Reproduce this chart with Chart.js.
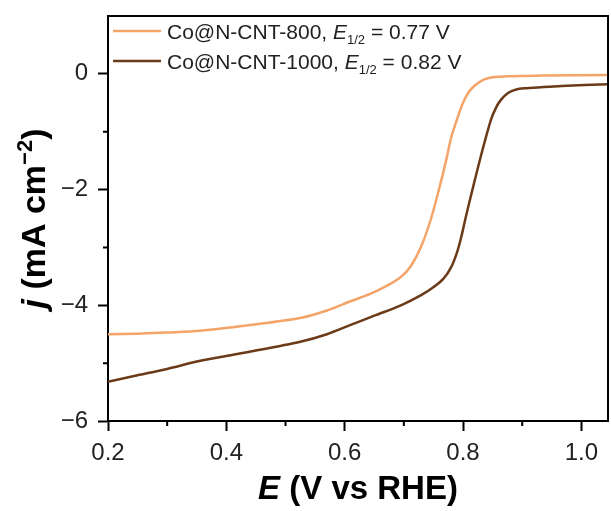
<!DOCTYPE html>
<html>
<head>
<meta charset="utf-8">
<script src="https://cdn.jsdelivr.net/npm/chart.js@4"></script>
<style>
  html, body { margin: 0; padding: 0; background: #fff; }
  #wrap { width: 611px; height: 511px; }
</style>
</head>
<body>
<div id="wrap"><canvas id="myChart" width="611" height="511"></canvas></div>
<script>
// Co@N-CNT-800
var e_800 = [0.2, 0.25, 0.3, 0.356, 0.441, 0.525, 0.57, 0.61, 0.644, 0.67, 0.695, 0.712, 0.729, 0.746, 0.763, 0.772, 0.78, 0.79, 0.8, 0.81, 0.82, 0.835, 0.85, 0.876, 0.932, 1.045];
var j_800 = [-4.5, -4.49, -4.47, -4.44, -4.34, -4.22, -4.09, -3.93, -3.8, -3.67, -3.51, -3.32, -2.99, -2.5, -1.85, -1.47, -1.1, -0.78, -0.5, -0.31, -0.2, -0.1, -0.06, -0.04, -0.03, -0.02];
// Co@N-CNT-1000
var e_1000 = [0.2, 0.25, 0.3, 0.356, 0.441, 0.525, 0.57, 0.61, 0.65, 0.695, 0.73, 0.751, 0.767, 0.78, 0.79, 0.797, 0.805, 0.814, 0.831, 0.847, 0.856, 0.864, 0.876, 0.89, 0.903, 0.932, 0.966, 1.045];
var j_1000 = [-5.32, -5.21, -5.1, -4.96, -4.8, -4.63, -4.5, -4.34, -4.18, -4.0, -3.82, -3.68, -3.54, -3.34, -3.08, -2.82, -2.46, -2.08, -1.39, -0.8, -0.58, -0.45, -0.33, -0.27, -0.25, -0.23, -0.21, -0.18];

var series_names = ['Co@N-CNT-800', 'Co@N-CNT-1000'];
var half_wave = ['0.77', '0.82'];
var x_minor = [0.3, 0.5, 0.7, 0.9];
var y_minor = [-5, -3, -1];

var col_800 = '#f4a468';
var col_1000 = '#6b3a18';
var FONT = '"Liberation Sans", Arial, sans-serif';

function to_points(xs, ys) {
    let pts = [];
    for (let i = 0; i < xs.length; i++) {
        pts.push({ x: xs[i], y: ys[i] });
    }
    return pts;
}

var extras = {
    id: 'extras',
    afterDraw(chart) {
        let ctx = chart.ctx;
        let a = chart.chartArea;
        let xs = chart.scales.x, ys = chart.scales.y;
        ctx.save();
        ctx.strokeStyle = '#000';
        ctx.lineWidth = 2;
        // top and right frame
        ctx.beginPath();
        ctx.moveTo(a.left - 1, a.top);
        ctx.lineTo(a.right, a.top);
        ctx.lineTo(a.right, a.bottom + 1);
        ctx.stroke();
        // minor ticks
        ctx.beginPath();
        x_minor.forEach(v => {
            let px = xs.getPixelForValue(v);
            ctx.moveTo(px, a.bottom);
            ctx.lineTo(px, a.bottom + 5);
        });
        y_minor.forEach(v => {
            let py = ys.getPixelForValue(v);
            ctx.moveTo(a.left, py);
            ctx.lineTo(a.left - 5, py);
        });
        ctx.stroke();

        ctx.fillStyle = '#000';
        ctx.textBaseline = 'alphabetic';
        // x title: E (V vs RHE)
        let f1 = 'italic bold 33px ' + FONT;
        let f2 = 'bold 33px ' + FONT;
        ctx.font = f1;
        let w1 = ctx.measureText('E').width;
        ctx.font = f2;
        let w2 = ctx.measureText(' (V vs RHE)').width;
        let cx = (a.left + a.right) / 2;
        let x0 = cx - (w1 + w2) / 2;
        ctx.font = f1;
        ctx.textAlign = 'left';
        ctx.fillText('E', x0, 499);
        ctx.font = f2;
        ctx.fillText(' (V vs RHE)', x0 + w1, 499);

        // y title: j (mA cm^-2)
        ctx.save();
        let cy = (a.top + a.bottom) / 2;
        ctx.translate(45, cy);
        ctx.rotate(-Math.PI / 2);
        let g1 = 'italic bold 34px ' + FONT;
        let g2 = 'bold 34px ' + FONT;
        let g3 = 'bold 22px ' + FONT;
        ctx.font = g1; let p1 = ctx.measureText('j').width;
        ctx.font = g2; let p2 = ctx.measureText(' (mA cm').width;
        ctx.font = g3; let p3 = ctx.measureText('\u22122').width;
        ctx.font = g2; let p4 = ctx.measureText(')').width;
        let sx = -(p1 + p2 + p3 + p4) / 2;
        ctx.font = g1; ctx.fillText('j', sx, 0);
        ctx.font = g2; ctx.fillText(' (mA cm', sx + p1, 0);
        ctx.font = g3; ctx.fillText('\u22122', sx + p1 + p2, -13);
        ctx.font = g2; ctx.fillText(')', sx + p1 + p2 + p3, 0);
        ctx.restore();

        // legend
        let cols = [col_800, col_1000];
        let rows = [39, 69];
        for (let i = 0; i < 2; i++) {
            let yy = rows[i];
            ctx.strokeStyle = cols[i];
            ctx.lineWidth = 2.5;
            ctx.beginPath();
            ctx.moveTo(113, yy - 8);
            ctx.lineTo(161, yy - 8);
            ctx.stroke();
            let tx = 167;
            ctx.fillStyle = '#222';
            ctx.font = '21px ' + FONT;
            let t = series_names[i] + ', ';
            ctx.fillText(t, tx, yy);
            tx += ctx.measureText(t).width;
            ctx.font = 'italic 21px ' + FONT;
            ctx.fillText('E', tx, yy);
            tx += ctx.measureText('E').width;
            ctx.font = '13px ' + FONT;
            ctx.fillText('1/2', tx, yy + 5);
            tx += ctx.measureText('1/2').width;
            ctx.font = '21px ' + FONT;
            ctx.fillText(' = ' + half_wave[i] + ' V', tx, yy);
        }
        ctx.restore();
    }
};

var ctx = document.getElementById('myChart');
var chart = new Chart(ctx, {
    type: 'line',
    data: {
        datasets: [
            {
                label: series_names[0],
                data: to_points(e_800, j_800),
                borderColor: col_800,
                borderWidth: 2.5,
                pointRadius: 0,
                fill: false,
                tension: 0.3
            },
            {
                label: series_names[1],
                data: to_points(e_1000, j_1000),
                borderColor: col_1000,
                borderWidth: 2.5,
                pointRadius: 0,
                fill: false,
                tension: 0.3
            }
        ]
    },
    options: {
        responsive: false,
        animation: false,
        layout: { padding: { top: 16, right: 3, left: 0, bottom: 0 } },
        plugins: {
            legend: { display: false },
            tooltip: { enabled: false }
        },
        scales: {
            x: {
                type: 'linear',
                min: 0.2,
                max: 1.045,
                afterFit: s => { s.height = 90; s.paddingLeft = 0; s.paddingRight = 0; },
                border: { color: '#000', width: 2 },
                grid: { drawOnChartArea: false, tickLength: 10, tickColor: '#000', tickWidth: 2 },
                ticks: {
                    stepSize: 0.2,
                    includeBounds: false,
                    padding: 8,
                    color: '#222',
                    font: { family: FONT, size: 24 },
                    maxRotation: 0,
                    callback: v => v.toFixed(1)
                }
            },
            y: {
                min: -6,
                max: 1,
                afterFit: s => { s.width = 108; s.paddingTop = 0; s.paddingBottom = 0; },
                border: { color: '#000', width: 2 },
                grid: { drawOnChartArea: false, tickLength: 10, tickColor: '#000', tickWidth: 2 },
                ticks: {
                    stepSize: 2,
                    includeBounds: false,
                    padding: 10,
                    color: '#222',
                    font: { family: FONT, size: 24 },
                    callback: v => v < 0 ? '\u2212' + Math.abs(v) : '' + v
                }
            }
        }
    },
    plugins: [extras]
});
</script>
</body>
</html>
